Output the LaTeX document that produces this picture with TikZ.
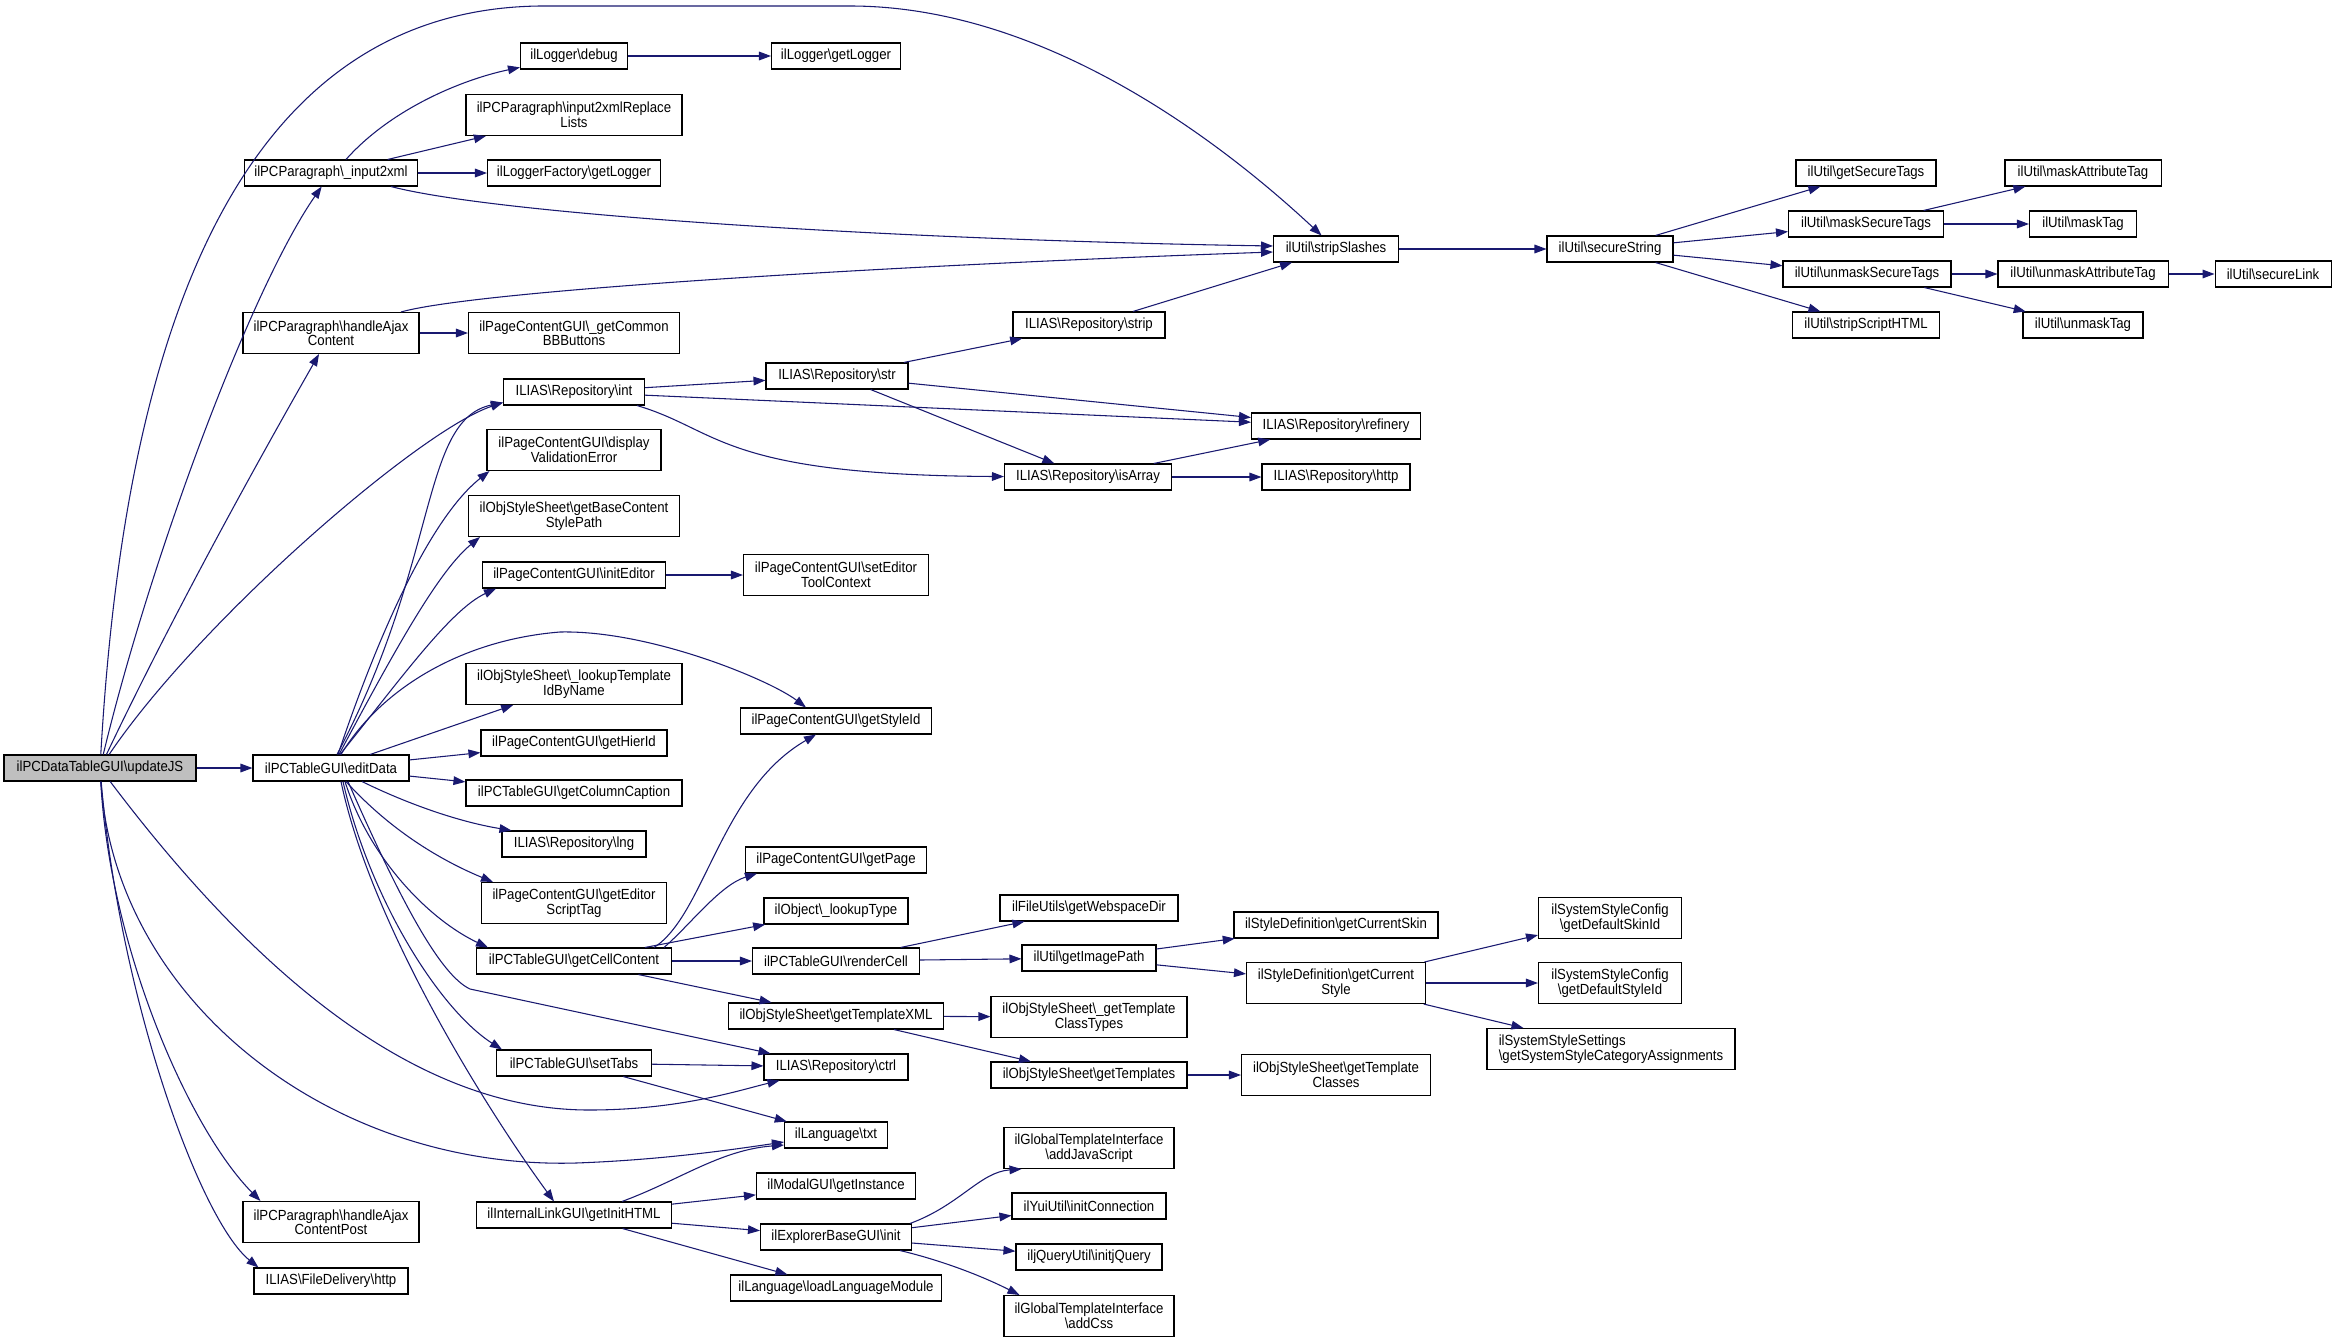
\documentclass[tikz,border=0pt]{standalone}
\usepackage{fontspec}
\setmainfont{Liberation Sans}[FakeStretch=0.9]
\usetikzlibrary{arrows.meta,calc}
\newcommand\bsl{\textbackslash}
\definecolor{edgec}{HTML}{191970}
\definecolor{rootfill}{HTML}{BFBFBF}
\begin{document}
\begin{tikzpicture}[x=0.75pt,y=-0.75pt,
  box/.style={draw=black, fill=white, line width=0.8pt, inner sep=0pt, align=center,
    font=\fontsize{11}{10.2}\selectfont, minimum height=26*0.75pt},
  tallbox/.style={minimum height=41*0.75pt},
  wd/.style={minimum width=#1*0.75pt},
  cn/.style={draw=edgec, line width=0.8pt, -{Triangle[length=9pt,width=6.5pt]}},
]
\fill[white] (0,0) rectangle (2336,1342);
\useasboundingbox (0,0) rectangle (2336,1342);

% column 0/1
\node[box,wd=192,fill=rootfill] (root) at (100,768) {ilPCDataTableGUI\bsl updateJS};
\node[box,wd=173] (inp) at (331,173) {ilPCParagraph\bsl\_input2xml};
\node[box,wd=176,tallbox] (hajax) at (331,333) {ilPCParagraph\bsl handleAjax\\Content};
\node[box,wd=156] (edit) at (331,768) {ilPCTableGUI\bsl editData};
\node[box,wd=176,tallbox] (hpost) at (331,1222) {ilPCParagraph\bsl handleAjax\\ContentPost};
\node[box,wd=154] (fdhttp) at (331,1281) {ILIAS\bsl FileDelivery\bsl http};
% column 2
\node[box,wd=107] (debug) at (574,56) {ilLogger\bsl debug};
\node[box,wd=216,tallbox] (i2xrl) at (574,115) {ilPCParagraph\bsl input2xmlReplace\\Lists};
\node[box,wd=173] (lfgl) at (574,173) {ilLoggerFactory\bsl getLogger};
\node[box,wd=211,tallbox] (bbb) at (574,333) {ilPageContentGUI\bsl\_getCommon\\BBButtons};
\node[box,wd=141] (int) at (574,392) {ILIAS\bsl Repository\bsl int};
\node[box,wd=174,tallbox] (dve) at (574,450) {ilPageContentGUI\bsl display\\ValidationError};
\node[box,wd=211,tallbox] (gbcsp) at (574,516) {ilObjStyleSheet\bsl getBaseContent\\StylePath};
\node[box,wd=183] (inited) at (574,575) {ilPageContentGUI\bsl initEditor};
\node[box,wd=216,tallbox] (ltin) at (574,684) {ilObjStyleSheet\bsl\_lookupTemplate\\IdByName};
\node[box,wd=186] (hier) at (574,743) {ilPageContentGUI\bsl getHierId};
\node[box,wd=216] (colcap) at (574,793) {ilPCTableGUI\bsl getColumnCaption};
\node[box,wd=144] (lng) at (574,844) {ILIAS\bsl Repository\bsl lng};
\node[box,wd=185,tallbox] (gest) at (574,903) {ilPageContentGUI\bsl getEditor\\ScriptTag};
\node[box,wd=195] (gcc) at (574,961) {ilPCTableGUI\bsl getCellContent};
\node[box,wd=155] (tabs) at (574,1063) {ilPCTableGUI\bsl setTabs};
\node[box,wd=195] (gih) at (574,1215) {ilInternalLinkGUI\bsl getInitHTML};
% column 3
\node[box,wd=129] (lgl) at (836,56) {ilLogger\bsl getLogger};
\node[box,wd=142] (str) at (837,376) {ILIAS\bsl Repository\bsl str};
\node[box,wd=185,tallbox] (setc) at (836,575) {ilPageContentGUI\bsl setEditor\\ToolContext};
\node[box,wd=191] (style) at (836,721) {ilPageContentGUI\bsl getStyleId};
\node[box,wd=181] (page) at (836,860) {ilPageContentGUI\bsl getPage};
\node[box,wd=144] (ltype) at (836,911) {ilObject\bsl\_lookupType};
\node[box,wd=167] (rcell) at (836,961) {ilPCTableGUI\bsl renderCell};
\node[box,wd=215] (gtx) at (836,1016) {ilObjStyleSheet\bsl getTemplateXML};
\node[box,wd=144] (ctrl) at (836,1067) {ILIAS\bsl Repository\bsl ctrl};
\node[box,wd=103] (txt) at (836,1135) {ilLanguage\bsl txt};
\node[box,wd=159] (modal) at (836,1186) {ilModalGUI\bsl getInstance};
\node[box,wd=151] (ebg) at (836,1237) {ilExplorerBaseGUI\bsl init};
\node[box,wd=211] (llm) at (836,1288) {ilLanguage\bsl loadLanguageModule};
% column 4
\node[box,wd=152] (strip) at (1089,325) {ILIAS\bsl Repository\bsl strip};
\node[box,wd=167] (isarr) at (1088,477) {ILIAS\bsl Repository\bsl isArray};
\node[box,wd=178] (wsd) at (1089,908) {ilFileUtils\bsl getWebspaceDir};
\node[box,wd=134] (gip) at (1089,958) {ilUtil\bsl getImagePath};
\node[box,wd=196,tallbox] (gtct) at (1089,1017) {ilObjStyleSheet\bsl\_getTemplate\\ClassTypes};
\node[box,wd=196] (gtpl) at (1089,1075) {ilObjStyleSheet\bsl getTemplates};
\node[box,wd=170,tallbox] (addjs) at (1089,1148) {ilGlobalTemplateInterface\\\bsl addJavaScript};
\node[box,wd=154] (yui) at (1089,1206) {ilYuiUtil\bsl initConnection};
\node[box,wd=146] (jq) at (1089,1257) {iljQueryUtil\bsl initjQuery};
\node[box,wd=170,tallbox] (addcss) at (1089,1316) {ilGlobalTemplateInterface\\\bsl addCss};
% column 5
\node[box,wd=125] (sslash) at (1336,249) {ilUtil\bsl stripSlashes};
\node[box,wd=169] (refin) at (1336,426) {ILIAS\bsl Repository\bsl refinery};
\node[box,wd=148] (rhttp) at (1336,477) {ILIAS\bsl Repository\bsl http};
\node[box,wd=204] (skin) at (1336,925) {ilStyleDefinition\bsl getCurrentSkin};
\node[box,wd=179,tallbox] (cstyle) at (1336,983) {ilStyleDefinition\bsl getCurrent\\Style};
\node[box,wd=189,tallbox] (tcls) at (1336,1075) {ilObjStyleSheet\bsl getTemplate\\Classes};
% column 6
\node[box,wd=126] (secstr) at (1610,249) {ilUtil\bsl secureString};
\node[box,wd=143,tallbox] (dskin) at (1610,918) {ilSystemStyleConfig\\\bsl getDefaultSkinId};
\node[box,wd=143,tallbox] (dstyle) at (1610,983) {ilSystemStyleConfig\\\bsl getDefaultStyleId};
\node[box,wd=248,tallbox,align=left] (ssca) at (1611,1049) {ilSystemStyleSettings\\\bsl getSystemStyleCategoryAssignments};
% column 7
\node[box,wd=140] (gst) at (1866,173) {ilUtil\bsl getSecureTags};
\node[box,wd=155] (mst) at (1866,224) {ilUtil\bsl maskSecureTags};
\node[box,wd=168] (umst) at (1867,274) {ilUtil\bsl unmaskSecureTags};
\node[box,wd=147] (ssh) at (1866,325) {ilUtil\bsl stripScriptHTML};
% column 8/9
\node[box,wd=156] (mat) at (2083,173) {ilUtil\bsl maskAttributeTag};
\node[box,wd=107] (mtag) at (2083,224) {ilUtil\bsl maskTag};
\node[box,wd=170] (umat) at (2083,274) {ilUtil\bsl unmaskAttributeTag};
\node[box,wd=120] (umtag) at (2083,325) {ilUtil\bsl unmaskTag};
\node[box,wd=116] (slink) at (2273,274) {ilUtil\bsl secureLink};

% ---- edges from root
\draw[cn] (root) .. controls (120,420) and (200,10) .. (540,6) -- (850,6) .. controls (1050,6) and (1230,150) .. (sslash);
\draw[cn] (root) .. controls (150,560) and (250,290) .. (inp);
\draw[cn] (root) .. controls (180,600) and (270,440) .. (hajax);
\draw[cn] (root) .. controls (200,620) and (420,430) .. ($(int.south west)+(0,-3)$);
\draw[cn] (root) -- (edit);
\draw[cn] (root) .. controls (260,980) and (420,1110) .. (589,1110) .. controls (680,1110) and (740,1090) .. (ctrl);
\draw[cn] (root) .. controls (115,1000) and (330,1170) .. (576,1163) .. controls (660,1160) and (730,1150) .. ($(txt.west)+(0,7)$);
\draw[cn] (root) .. controls (110,950) and (190,1130) .. ($(hpost.north west)+(18,0)$);
\draw[cn] (root) .. controls (120,1000) and (200,1220) .. ($(fdhttp.north west)+(5,0)$);
% ---- input2xml
\draw[cn] ($(inp.north)+(15,0)$) .. controls (390,110) and (460,80) .. (debug);
\draw[cn] (inp) -- (i2xrl);
\draw[cn] (inp) -- (lfgl);
\draw[cn] ($(inp.south)+(60,0)$) .. controls (500,215) and (900,240) .. ($(sslash.west)+(0,-3)$);
% ---- handleAjaxContent
\draw[cn] ($(hajax.north)+(70,0)$) .. controls (480,290) and (900,265) .. ($(sslash.west)+(0,3)$);
\draw[cn] (hajax) -- (bbb);
\draw[cn] (debug) -- (lgl);
% ---- editData
\draw[cn] ($(edit.north)+(6,0)$) .. controls (440,560) and (420,420) .. ($(int.south west)+(0,-3)$);
\draw[cn] ($(edit.north)+(7,0)$) .. controls (390,600) and (440,510) .. ($(dve.south west)+(3,0)$);
\draw[cn] ($(edit.north)+(8,0)$) .. controls (400,640) and (440,570) .. ($(gbcsp.south west)+(12,0)$);
\draw[cn] ($(edit.north)+(9,0)$) .. controls (400,680) and (450,610) .. ($(inited.south west)+(14,0)$);
\draw[cn] ($(edit.north)+(10,0)$) .. controls (380,690) and (460,640) .. (560,632) .. controls (650,630) and (770,680) .. ($(style.north)+(-30,0)$);
\draw[cn] (edit) -- (ltin);
\draw[cn] (edit) -- (hier);
\draw[cn] (edit) -- (colcap);
\draw[cn] ($(edit.south)+(31,0)$) .. controls (410,805) and (460,822) .. ($(lng.north west)+(10,0)$);
\draw[cn] ($(edit.south)+(15,0)$) .. controls (390,830) and (440,860) .. ($(gest.north west)+(12,0)$);
\draw[cn] ($(edit.south)+(14,0)$) .. controls (370,860) and (430,920) .. ($(gcc.north west)+(12,0)$);
\draw[cn] ($(edit.south)+(12,0)$) .. controls (370,900) and (440,1010) .. ($(tabs.north west)+(6,0)$);
\draw[cn] ($(edit.south)+(10,0)$) .. controls (370,920) and (480,1100) .. ($(gih.north)+(-20,0)$);
\draw[cn] ($(edit.south)+(17,0)$) .. controls (400,900) and (440,975) .. (470,989) -- ($(ctrl.north west)+(7,0)$);
% ---- int / str / strip / isArray
\draw[cn] (int) -- (str);
\draw[cn] (int) -- (refin);
\draw[cn] ($(int.south)+(63,0)$) .. controls (720,430) and (720,475) .. (isarr);
\draw[cn] (str) -- (strip);
\draw[cn] (str) -- (refin);
\draw[cn] (str) -- (isarr);
\draw[cn] (strip) -- (sslash);
\draw[cn] (isarr) -- (refin);
\draw[cn] (isarr) -- (rhttp);
% ---- ilUtil chain
\draw[cn] (sslash) -- (secstr);
\draw[cn] (secstr) -- (gst);
\draw[cn] (secstr) -- (mst);
\draw[cn] (secstr) -- (umst);
\draw[cn] (secstr) -- (ssh);
\draw[cn] (mst) -- (mat);
\draw[cn] (mst) -- (mtag);
\draw[cn] (umst) -- (umat);
\draw[cn] (umst) -- (umtag);
\draw[cn] (umat) -- (slink);
\draw[cn] (inited) -- (setc);
% ---- getCellContent
\draw[cn] ($(gcc.north)+(80,0)$) .. controls (705,915) and (720,790) .. ($(style.south)+(-20,0)$);
\draw[cn] ($(gcc.north)+(90,0)$) .. controls (690,925) and (720,885) .. ($(page.south west)+(12,0)$);
\draw[cn] (gcc) -- (ltype);
\draw[cn] (gcc) -- (rcell);
\draw[cn] (gcc) -- (gtx);
\draw[cn] (rcell) -- (wsd);
\draw[cn] (rcell) -- (gip);
\draw[cn] (gip) -- (skin);
\draw[cn] (gip) -- (cstyle);
\draw[cn] (cstyle) -- (dskin);
\draw[cn] (cstyle) -- (dstyle);
\draw[cn] (cstyle) -- (ssca);
\draw[cn] (gtx) -- (gtct);
\draw[cn] (gtx) -- (gtpl);
\draw[cn] (gtpl) -- (tcls);
% ---- setTabs
\draw[cn] (tabs) -- (ctrl);
\draw[cn] (tabs) -- (txt);
% ---- getInitHTML
\draw[cn] ($(gih.north)+(48,0)$) .. controls (680,1180) and (720,1150) .. ($(txt.west)+(0,10)$);
\draw[cn] (gih) -- (modal);
\draw[cn] (gih) -- (ebg);
\draw[cn] (gih) -- (llm);
% ---- ExplorerBaseGUI
\draw[cn] ($(ebg.north east)+(-2,0)$) .. controls (960,1205) and (980,1172) .. ($(addjs.south west)+(18,0)$);
\draw[cn] (ebg) -- (yui);
\draw[cn] (ebg) -- (jq);
\draw[cn] ($(ebg.south east)+(-12,0)$) .. controls (940,1260) and (980,1275) .. ($(addcss.north west)+(16,0)$);
\end{tikzpicture}
\end{document}
